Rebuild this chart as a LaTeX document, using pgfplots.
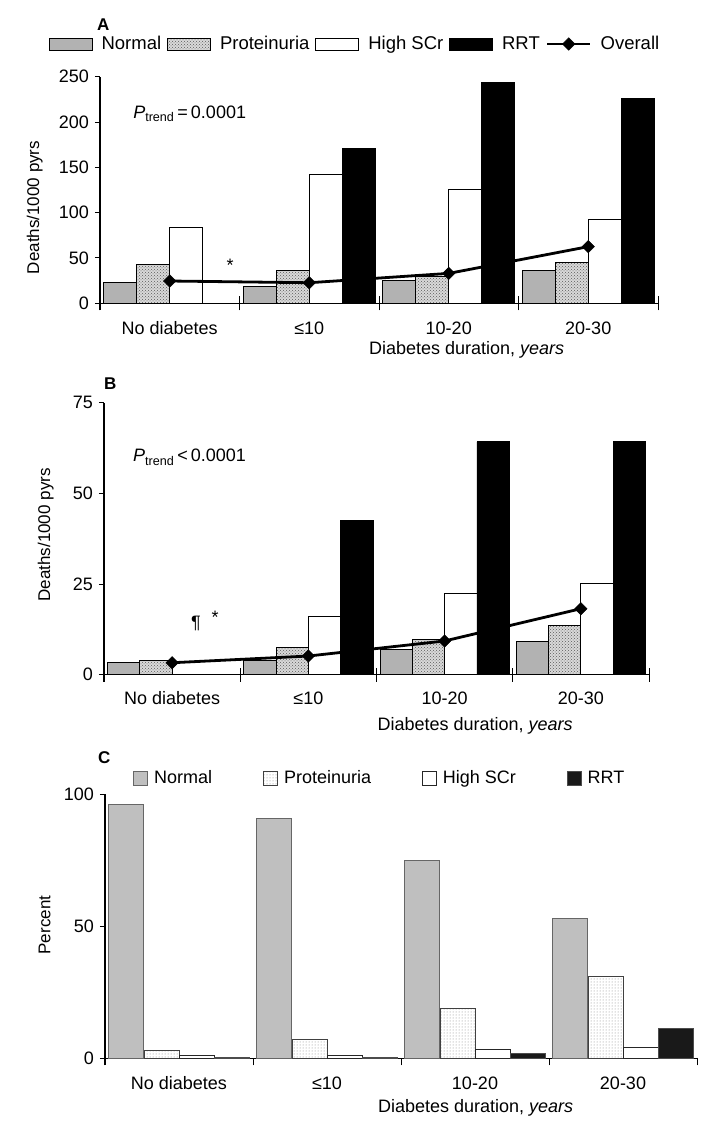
\documentclass[border=0pt]{standalone}
\usepackage{fontspec}
\setmainfont{Liberation Sans}
\usepackage{pgfplots}
\pgfplotsset{compat=1.18}
\usetikzlibrary{patterns}
\newcommand{\ff}{\fontsize{18}{21.6}\selectfont}
\pgfplotsset{
  panel/.style={
    scale only axis, xmin=-0.5, xmax=3.5, ymin=0, clip=false,
    axis x line*=bottom, axis y line*=left,
    axis line style={line width=1.2pt, black},
    y axis line style={shorten <=-7pt},
    xtick={0,1,2,3},
    xticklabels={No diabetes,≤10,10-20,20-30},
    major x tick style={draw=none},
    minor xtick={0.5,1.5,2.5,3.5},
    ytick align=outside, major tick length=5pt,
    tick style={line width=1pt, black},
    tick label style={font=\ff},
    label style={font=\ff},
    ylabel style={font=\fontsize{17}{20}\selectfont},
    /pgf/number format/assume math mode=true,
  },
  mybox/.style={legend image code/.code={\draw[##1] (0pt,-6pt) rectangle (43pt,6pt);}},
  sqbox/.style={legend image code/.code={\draw[##1] (0pt,-7pt) rectangle (14pt,7pt);}},
  lineleg/.style={legend image code/.code={\draw[mark repeat=2,mark phase=2,##1] plot coordinates {(0pt,0pt) (21.5pt,0pt) (43pt,0pt)};}},
  protAB/.style={fill=black!15, postaction={pattern=crosshatch dots, pattern color=black!65}, draw=black, line width=0.8pt},
}
\begin{document}
\ff
\begin{tikzpicture}
\useasboundingbox (0pt,0pt) rectangle (715pt,-1132pt);
% ---------------- Panel A ----------------
\begin{axis}[panel,
  at={(100pt,-303.3pt)}, anchor=south west,
  width=558pt, height=226.6pt,
  ymax=250, ytick={0,50,100,150,200,250},
  xtick align=center, minor tick length=14pt,
  xticklabel style={anchor=base, yshift=-28.7pt},
  ylabel={Deaths/1000 pyrs},
  ylabel style={at={(axis description cs:-0.117,0.423)}, anchor=center},
  xlabel={Diabetes duration, \textit{years}},
  xlabel style={at={(axis description cs:0.657,-0.228)}, anchor=base},
  legend columns=5,
  legend style={draw=none, fill=none, inner sep=0pt, font=\fontsize{18.5}{22}\selectfont,
    at={(axis description cs:-0.0921,1.1443)}, anchor=west,
    /tikz/every odd column/.append style={column sep=7pt},
    /tikz/every even column/.append style={column sep=4pt}},
]
\addplot[ybar, bar width=0.237, bar shift=-0.3555, fill=black!30, draw=black, line width=0.8pt, mybox]
  coordinates {(0,23.2) (1,18.3) (2,25) (3,36)};
\addlegendentry{Normal}
\addplot[ybar, bar width=0.237, bar shift=-0.1185, protAB, mybox]
  coordinates {(0,42.6) (1,36) (2,29.4) (3,45.2)};
\addlegendentry{Proteinuria}
\addplot[ybar, bar width=0.237, bar shift=0.1185, fill=white, draw=black, line width=0.8pt, mybox]
  coordinates {(0,83.4) (1,142.3) (2,125.8) (3,92.7)};
\addlegendentry{High SCr}
\addplot[ybar, bar width=0.237, bar shift=0.3555, fill=black, draw=black, line width=0.8pt, mybox]
  coordinates {(0,0) (1,170.6) (2,243.8) (3,226.2)};
\addlegendentry{RRT}
\addplot[black, line width=2.8pt, mark=square*, mark size=4.4pt, mark options={rotate=45, solid, fill=black, line width=0.5pt}, lineleg]
  coordinates {(0,24.6) (1,22.7) (2,33) (3,62.5)};
\addlegendentry{Overall}
\node[anchor=base west, inner sep=0pt] at (axis cs:-0.263,204) {\textit{P}\textsubscript{trend}\,=\,0.0001};
\node[inner sep=0pt] at (axis cs:0.432,41.5) {*};
\node[anchor=base west, inner sep=0pt, font=\bfseries\fontsize{17}{20}\selectfont] at (rel axis cs:-0.0054,1.206) {A};
\end{axis}
% ---------------- Panel B ----------------
\begin{axis}[panel,
  at={(104pt,-674.7pt)}, anchor=south west,
  width=545pt, height=272pt,
  ymax=75, ytick={0,25,50,75},
  xtick align=center, minor tick length=14pt,
  xticklabel style={anchor=base, yshift=-27.3pt},
  ylabel={Deaths/1000 pyrs},
  ylabel style={at={(axis description cs:-0.107,0.514)}, anchor=center},
  xlabel={Diabetes duration, \textit{years}},
  xlabel style={at={(axis description cs:0.681,-0.2033)}, anchor=base},
]
\addplot[ybar, bar width=0.237, bar shift=-0.3555, fill=black!30, draw=black, line width=0.8pt]
  coordinates {(0,3.3) (1,4.05) (2,7.0) (3,9.2)};
\addplot[ybar, bar width=0.237, bar shift=-0.1185, protAB]
  coordinates {(0,4.05) (1,7.55) (2,9.6) (3,13.7)};
\addplot[ybar, bar width=0.237, bar shift=0.1185, fill=white, draw=black, line width=0.8pt]
  coordinates {(0,0) (1,16.2) (2,22.3) (3,25.2)};
\addplot[ybar, bar width=0.237, bar shift=0.3555, fill=black, draw=black, line width=0.8pt]
  coordinates {(0,0) (1,42.6) (2,64.2) (3,64.2)};
\addplot[black, line width=2.8pt, mark=square*, mark size=4.4pt, mark options={rotate=45, solid, fill=black, line width=0.5pt}]
  coordinates {(0,3.3) (1,5.15) (2,9.3) (3,18.2)};
\node[anchor=base west, inner sep=0pt] at (axis cs:-0.287,58.7) {\textit{P}\textsubscript{trend}\,<\,0.0001};
\node[inner sep=0pt] at (axis cs:0.175,14.2) {¶};
\node[inner sep=0pt] at (axis cs:0.315,15.9) {*};
\node[anchor=base west, inner sep=0pt, font=\bfseries\fontsize{17}{20}\selectfont] at (rel axis cs:0,1.0504) {B};
\end{axis}
% ---------------- Panel C ----------------
\begin{axis}[panel,
  at={(105pt,-1058.3pt)}, anchor=south west,
  width=592pt, height=264.3pt,
  ymax=100, ytick={0,50,100},
  xtick align=outside, minor tick length=7pt,
  xticklabel style={anchor=base, yshift=-25.7pt},
  ylabel={Percent},
  ylabel style={at={(axis description cs:-0.102,0.504)}, anchor=center},
  xlabel={Diabetes duration, \textit{years}},
  xlabel style={at={(axis description cs:0.626,-0.205)}, anchor=base},
  legend columns=4,
  legend style={draw=none, fill=none, inner sep=0pt, font=\ff,
    at={(axis description cs:0.0473,1.0587)}, anchor=west,
    /tikz/every odd column/.append style={column sep=4pt},
    /tikz/every even column/.append style={column sep=49pt}},
]
\addplot[ybar, bar width=0.237, bar shift=-0.3555, fill=black!25, draw=black!60, line width=1pt, sqbox]
  coordinates {(0,96.1) (1,90.8) (2,75.0) (3,52.8)};
\addlegendentry{Normal}
\addplot[ybar, bar width=0.237, bar shift=-0.1185, pattern=dots, pattern color=black!50, draw=black!75, line width=0.8pt, sqbox]
  coordinates {(0,2.9) (1,7.2) (2,19.0) (3,30.9)};
\addlegendentry{Proteinuria}
\addplot[ybar, bar width=0.237, bar shift=0.1185, fill=white, draw=black!85, line width=0.8pt, sqbox]
  coordinates {(0,1.1) (1,1.0) (2,3.4) (3,4.2)};
\addlegendentry{High SCr}
\addplot[ybar, bar width=0.237, bar shift=0.3555, fill=black!90, draw=black!70, line width=0.8pt, sqbox]
  coordinates {(0,0.4) (1,0.3) (2,1.9) (3,11.2)};
\addlegendentry{RRT}
\node[anchor=base west, inner sep=0pt, font=\bfseries\fontsize{17}{20}\selectfont] at (rel axis cs:-0.0118,1.117) {C};
\end{axis}
\end{tikzpicture}
\end{document}
